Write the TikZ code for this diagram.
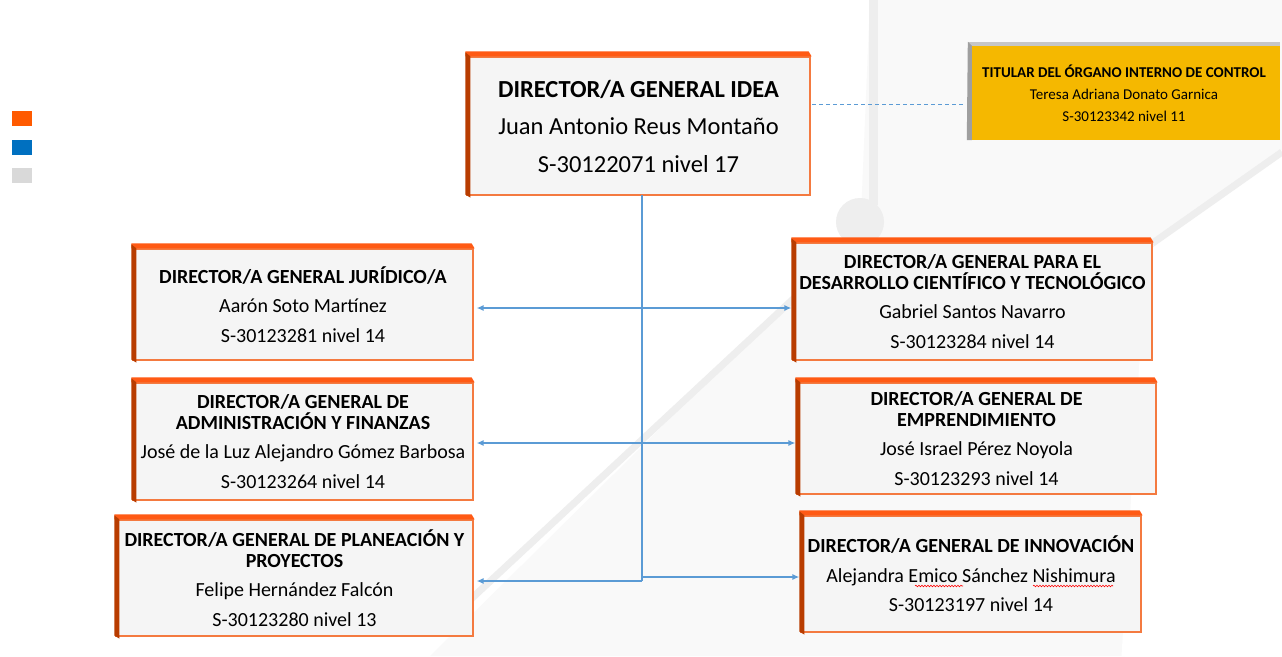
\documentclass[tikz,border=0pt]{standalone}
\usepackage{fontspec}
\setmainfont{Carlito}
\usetikzlibrary{arrows.meta,decorations.pathmorphing}
\definecolor{legorange}{HTML}{FF5A00}
\definecolor{legblue}{HTML}{0070C0}
\definecolor{leggray}{HTML}{D9D9D9}
\definecolor{boxfill}{HTML}{F5F5F5}
\definecolor{boxline}{HTML}{F47A40}
\definecolor{bevtop}{HTML}{FF5A14}
\definecolor{bevleft}{HTML}{B83C00}
\definecolor{conblue}{HTML}{5B9BD5}
\definecolor{yelfill}{HTML}{F5B800}
\definecolor{bggray}{HTML}{F9F9F9}
\definecolor{bgline}{HTML}{EEEEEE}
\begin{document}
\begin{tikzpicture}[x=1pt,y=-1pt,
  obox/.style={rectangle, fill=boxfill, draw=boxline, line width=1.2pt, inner sep=0pt, align=center},
  ybox/.style={rectangle, fill=yelfill, draw=none, inner sep=0pt, align=center},
  conn/.style={draw=conblue, line width=1.4pt},
  arr/.style={conn, -{Latex[length=7pt,width=6pt]}},
  dashline/.style={draw=conblue, line width=1pt, dash pattern=on 4pt off 3pt},
  midfont/.style={font=\fontsize{20}{29.5}\selectfont},
  spell/.style={draw=red, line width=0.6pt, decorate, decoration={snake, amplitude=0.8pt, segment length=3pt}},
]
% canvas
\path[use as bounding box, fill=white] (0,0) rectangle (1282,656);
% background decoration
\fill[bggray] (870,0) -- (1282,0) -- (1282,150) -- (1150,245) -- (1125,656) -- (430,656) -- (800,290) -- (860,240) -- cycle;
\draw[bgline, line width=9pt] (873,0) -- (873,205);
\fill[bgline] (860,222) circle (24);
\draw[bgline, line width=7pt] (1282,152) -- (1150,245);
\draw[bgline, line width=7pt] (805,288) -- (470,600);
\draw[white, line width=7pt] (1150,245) -- (1125,656);
% legend
\fill[legorange] (12,111) rectangle (32,126);
\fill[legblue] (12,140) rectangle (32,155);
\fill[leggray] (12,168) rectangle (32,183);

% top box
\node[obox, minimum width=343pt, minimum height=138pt, font=\fontsize{24.5}{37.5}\selectfont] (top) at (638.5,126)
  {\textbf{DIRECTOR/A GENERAL IDEA}\\Juan Antonio Reus Montaño\\S-30122071 nivel 17};
% yellow box
\node[ybox, minimum width=312pt, minimum height=94pt, font=\fontsize{15}{22}\selectfont] (yel) at (1124,93)
  {\textbf{TITULAR DEL ÓRGANO INTERNO DE CONTROL}\\Teresa Adriana Donato Garnica\\S-30123342 nivel 11};
% left boxes
\node[obox, midfont, minimum width=340pt, minimum height=111pt] (l1) at (303,304.5)
  {\textbf{DIRECTOR/A GENERAL JURÍDICO/A}\\Aarón Soto Martínez\\S-30123281 nivel 14};
\node[obox, midfont, minimum width=340pt, minimum height=117pt] (l2) at (303,441.5)
  {\textbf{DIRECTOR/A GENERAL DE}\\[-9pt]\textbf{ADMINISTRACIÓN Y FINANZAS}\\José de la Luz Alejandro Gómez Barbosa\\S-30123264 nivel 14};
\node[obox, midfont, minimum width=357pt, minimum height=116pt] (l3) at (294.5,578)
  {\textbf{DIRECTOR/A GENERAL DE PLANEACIÓN Y}\\[-9pt]\textbf{PROYECTOS}\\Felipe Hernández Falcón\\S-30123280 nivel 13};
% right boxes
\node[obox, midfont, minimum width=359pt, minimum height=117pt] (r1) at (972.5,301.5)
  {\textbf{DIRECTOR/A GENERAL PARA EL}\\[-9pt]\textbf{DESARROLLO CIENTÍFICO Y TECNOLÓGICO}\\Gabriel Santos Navarro\\S-30123284 nivel 14};
\node[obox, midfont, minimum width=359pt, minimum height=111pt] (r2) at (976.5,438.5)
  {\textbf{DIRECTOR/A GENERAL DE}\\[-9pt]\textbf{EMPRENDIMIENTO}\\José Israel Pérez Noyola\\S-30123293 nivel 14};
\node[obox, midfont, minimum width=340pt, minimum height=116pt] (r3) at (971,574)
  {\textbf{DIRECTOR/A GENERAL DE INNOVACIÓN}\\Alejandra Emico Sánchez Nishimura\\S-30123197 nivel 14};

% bevels
\foreach \n in {top,l1,l2,l3,r1,r2,r3}{
  \fill[bevtop] ([xshift=-1pt,yshift=5pt]\n.north west) -- ([xshift=-2pt,yshift=5pt]\n.north east) -- ([xshift=1pt]\n.north east) -- ([xshift=-1pt]\n.north west) -- cycle;
  \fill[bevleft] ([xshift=-1pt,yshift=4pt]\n.north west) -- ([xshift=4pt]\n.north west) -- ([xshift=4pt,yshift=-2pt]\n.south west) -- ([xshift=-1pt,yshift=1pt]\n.south west) -- cycle;
}
\fill[gray!45] ([yshift=4pt]yel.north west) -- ([yshift=4pt]yel.north east) -- (yel.north east) -- (yel.north west) -- cycle;
\fill[gray!75] ([yshift=4pt]yel.north west) -- ([xshift=4pt]yel.north west) -- ([xshift=4pt]yel.south west) -- ([xshift=-1pt]yel.south west) -- cycle;

% spell-check marks
\draw[spell] ([shift={(-56,12)}]r3.center) -- ([shift={(-8,12)}]r3.center);
\draw[spell] ([shift={(62,12)}]r3.center) -- ([shift={(142,12)}]r3.center);

% connectors
\coordinate (v0) at (642,195);
\coordinate (v1) at (642,308);
\coordinate (v2) at (642,443);
\coordinate (v3) at (642,581);
\coordinate (v3r) at (642,577);
\coordinate (d0) at (812,104);
\draw[conn] (v0) -- (v3);
\draw[arr] (v1) -- ([xshift=3pt]v1 -| l1.east);
\draw[arr] (v1) -- ([xshift=-1pt]v1 -| r1.west);
\draw[arr] (v2) -- ([xshift=3pt]v2 -| l2.east);
\draw[arr] (v2) -- ([xshift=-1pt]v2 -| r2.west);
\draw[arr] (v3) -- ([xshift=3pt]v3 -| l3.east);
\draw[arr] (v3r) -- ([xshift=-1pt]v3r -| r3.west);
\draw[dashline] (d0) -- ([xshift=-3pt]d0 -| yel.west);
\end{tikzpicture}
\end{document}
